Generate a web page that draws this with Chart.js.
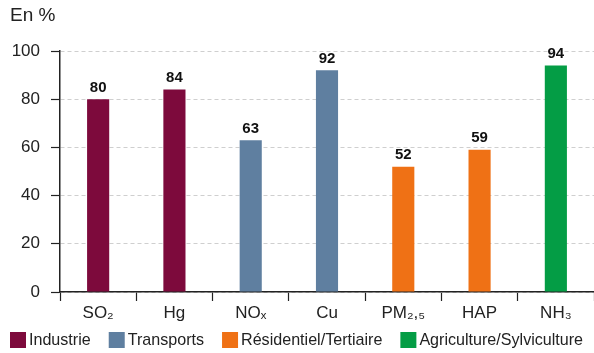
<!DOCTYPE html>
<html>
<head>
<meta charset="utf-8">
<script src="https://cdn.jsdelivr.net/npm/chart.js@4/dist/chart.umd.min.js"></script>
<style>
  body { margin: 0; background: #fff; }
  #wrap { width: 594px; height: 353px; position: relative; }
</style>
</head>
<body>
<div id="wrap"><canvas id="emissionsChart"></canvas></div>
<script>
// Data
const categories = ['SO₂', 'Hg', 'NOₓ', 'Cu', 'PM₂,₅', 'HAP', 'NH₃'];
const values = [80, 84, 63, 92, 52, 59, 94];
const sectorOfCategory = [0, 0, 1, 1, 2, 2, 3];
const sectors = ['Industrie', 'Transports', 'Résidentiel/Tertiaire', 'Agriculture/Sylviculture'];
const sectorColors = ['#7d0a3c', '#5f7fa0', '#ef7115', '#049d45'];
const yTickValues = [0, 20, 40, 60, 80, 100];

Chart.defaults.font.family = '"Liberation Sans", Arial, sans-serif';
Chart.defaults.color = '#222';

const datasets = sectors.map((name, i) => ({
    label: name,
    data: values.map((v, j) => sectorOfCategory[j] === i ? v : null),
    backgroundColor: sectorColors[i],
    grouped: false,
    categoryPercentage: 1,
    barPercentage: 0.29
}));

// value labels above the bars
const valueLabels = {
    id: 'valueLabels',
    afterDatasetsDraw(chart) {
        const ctx = chart.ctx;
        ctx.save();
        ctx.font = 'bold 15px "Liberation Sans", Arial, sans-serif';
        ctx.fillStyle = '#111';
        ctx.textAlign = 'center';
        ctx.textBaseline = 'bottom';
        chart.data.datasets.forEach((ds, i) => {
            chart.getDatasetMeta(i).data.forEach((bar, j) => {
                if (ds.data[j] == null) return;
                ctx.fillText(ds.data[j], bar.x, bar.y - 4);
            });
        });
        ctx.restore();
    }
};

// unit title and legend row at the bottom
const extras = {
    id: 'extras',
    afterDraw(chart) {
        const ctx = chart.ctx;
        ctx.save();
        ctx.fillStyle = '#222';
        ctx.textBaseline = 'middle';
        ctx.font = '19px "Liberation Sans", Arial, sans-serif';
        ctx.fillText('En %', 10, 16);

        ctx.font = '16.1px "Liberation Sans", Arial, sans-serif';
        let x = 10;
        chart.data.datasets.forEach(ds => {
            ctx.fillStyle = ds.backgroundColor;
            ctx.fillRect(x, 332, 16, 16);
            ctx.fillStyle = '#222';
            ctx.fillText(ds.label, x + 19, 341);
            x += 19 + ctx.measureText(ds.label).width + 18;
        });
        ctx.restore();
    }
};

const ctx = document.getElementById('emissionsChart').getContext('2d');
const emissionsChart = new Chart(ctx, {
    type: 'bar',
    data: { labels: categories, datasets: datasets },
    options: {
        responsive: true,
        maintainAspectRatio: false,
        animation: false,
        layout: { padding: { top: 51, left: 0, right: 0, bottom: 0 } },
        plugins: {
            legend: { display: false },
            tooltip: { enabled: false }
        },
        scales: {
            x: {
                grid: {
                    display: true,
                    drawOnChartArea: false,
                    drawTicks: true,
                    tickLength: 9,
                    tickColor: '#222',
                    tickWidth: 1.2,
                    offset: true
                },
                border: { display: true, color: '#222', width: 1.5 },
                ticks: { font: { size: 17 }, padding: 2, color: '#222' },
                afterFit: scale => { scale.height = 61; }
            },
            y: {
                min: 0,
                max: 100,
                afterBuildTicks: scale => { scale.ticks = yTickValues.map(v => ({ value: v })); },
                grid: {
                    color: '#cfcfcf',
                    lineWidth: 1,
                    tickColor: '#222',
                    tickWidth: 1.2,
                    tickLength: 9
                },
                border: { display: true, color: '#222', width: 1.5, dash: [4, 3] },
                ticks: { font: { size: 17 }, padding: 11, color: '#222' },
                afterFit: scale => { scale.width = 60; }
            }
        }
    },
    plugins: [valueLabels, extras]
});
</script>
</body>
</html>
